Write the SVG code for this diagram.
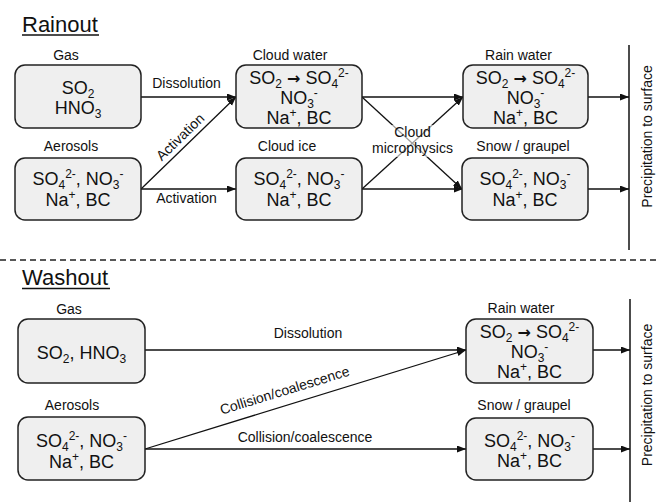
<svg xmlns="http://www.w3.org/2000/svg" width="656" height="502" viewBox="0 0 656 502">
<style>
text{font-family:"Liberation Sans",Arial,sans-serif;fill:#111}
.box{fill:#efefef;stroke:#222;stroke-width:1.5}
.c{font-size:18px;text-anchor:middle}
.lbl{font-size:14px;text-anchor:middle}
.ttl{font-size:22px}
.edge{fill:none;stroke:#111;stroke-width:1.3}
.arr{marker-end:url(#ah)}
.s{font-size:12px}
.ar{font-family:"DejaVu Sans",sans-serif;font-weight:bold;font-size:16px}
</style>
<defs>
<marker id="ah" markerUnits="userSpaceOnUse" markerWidth="10" markerHeight="8" refX="9" refY="3.5" orient="auto">
<path d="M0,0 L9,3.5 L0,7 Z" fill="#111"/>
</marker>
</defs>
<rect width="656" height="502" fill="#fff"/>

<!-- titles -->
<text class="ttl" x="22" y="32">Rainout</text>
<line x1="22" y1="35" x2="99" y2="35" stroke="#111" stroke-width="1.4"/>
<text class="ttl" x="22" y="285">Washout</text>
<line x1="22" y1="288.5" x2="110" y2="288.5" stroke="#111" stroke-width="1.4"/>

<line x1="0" y1="260" x2="656" y2="260" stroke="#222" stroke-width="1.3" stroke-dasharray="6 4"/>

<!-- connectors -->
<g id="connectors">
<path class="edge arr" d="M141,97 L236,97"/>
<path class="edge arr" d="M141,189 L236,97"/>
<path class="edge arr" d="M141,189 L236,189"/>
<path class="edge arr" d="M362,97 L463,97"/>
<path class="edge arr" d="M362,189 L463,189"/>
<path class="edge arr" d="M362,97 L462,189"/>
<path class="edge arr" d="M362,189 L463,97"/>
<path class="edge arr" d="M588,97 L629,97"/>
<path class="edge arr" d="M588,189 L629,189"/>
<line x1="629" y1="45" x2="629" y2="250" stroke="#111" stroke-width="1.5"/>

<path class="edge arr" d="M145,350 L466,350"/>
<path class="edge arr" d="M145,449 L466,350"/>
<path class="edge arr" d="M145,449 L466,449"/>
<path class="edge arr" d="M593,350 L630,350"/>
<path class="edge arr" d="M593,449 L630,449"/>
<line x1="630" y1="299" x2="630" y2="502" stroke="#111" stroke-width="1.5"/>

<text class="lbl" x="186.5" y="88">Dissolution</text>
<text class="lbl" x="186.5" y="203">Activation</text>
<text class="lbl" transform="translate(183.5,140.5) rotate(-44.1)">Activation</text>
<rect x="371" y="125" width="84" height="32" fill="#fff" fill-opacity="0.6"/>
<text class="lbl" x="412.5" y="137">Cloud</text>
<text class="lbl" x="412.5" y="153">microphysics</text>
<text class="lbl" x="308" y="338">Dissolution</text>
<text class="lbl" x="305" y="442">Collision/coalescence</text>
<text class="lbl" transform="translate(286,395) rotate(-17.1)">Collision/coalescence</text>
<text class="lbl" transform="translate(652,136.5) rotate(-90)">Precipitation to surface</text>
<text class="lbl" transform="translate(652,395) rotate(-90)">Precipitation to surface</text>
</g>

<!-- Rainout nodes -->
<g id="r-gas">
<text class="lbl" x="66" y="60">Gas</text>
<rect class="box" x="15" y="65" width="126" height="63" rx="10"/>
<text class="c" x="78" y="94">SO<tspan class="s" dy="4">2</tspan></text>
<text class="c" x="78" y="114">HNO<tspan class="s" dy="4">3</tspan></text>
</g>
<g id="r-aerosols">
<text class="lbl" x="71" y="151">Aerosols</text>
<rect class="box" x="15" y="158" width="126" height="62" rx="10"/>
<text class="c" x="78" y="185">SO<tspan class="s" dy="4">4</tspan><tspan class="s" dy="-11">2-</tspan><tspan dy="7">, NO</tspan><tspan class="s" dy="4">3</tspan><tspan class="s" dy="-11">-</tspan></text>
<text class="c" x="78" y="206">Na<tspan class="s" dy="-7">+</tspan><tspan dy="7">, BC</tspan></text>
</g>
<g id="r-cloudwater">
<text class="lbl" x="290" y="60">Cloud water</text>
<rect class="box" x="236" y="65" width="126" height="63" rx="10"/>
<text class="c" x="299" y="84">SO<tspan class="s" dy="4">2</tspan><tspan dy="-4"> </tspan><tspan class="ar">→</tspan><tspan> SO</tspan><tspan class="s" dy="4">4</tspan><tspan class="s" dy="-11">2-</tspan></text>
<text class="c" x="299" y="104">NO<tspan class="s" dy="4">3</tspan><tspan class="s" dy="-11">-</tspan></text>
<text class="c" x="299" y="124">Na<tspan class="s" dy="-7">+</tspan><tspan dy="7">, BC</tspan></text>
</g>
<g id="r-cloudice">
<text class="lbl" x="287" y="151">Cloud ice</text>
<rect class="box" x="236" y="158" width="126" height="62" rx="10"/>
<text class="c" x="299" y="185">SO<tspan class="s" dy="4">4</tspan><tspan class="s" dy="-11">2-</tspan><tspan dy="7">, NO</tspan><tspan class="s" dy="4">3</tspan><tspan class="s" dy="-11">-</tspan></text>
<text class="c" x="299" y="206">Na<tspan class="s" dy="-7">+</tspan><tspan dy="7">, BC</tspan></text>
</g>
<g id="r-rainwater">
<text class="lbl" x="518.5" y="60">Rain water</text>
<rect class="box" x="463" y="65" width="125" height="63" rx="10"/>
<text class="c" x="525.5" y="84">SO<tspan class="s" dy="4">2</tspan><tspan dy="-4"> </tspan><tspan class="ar">→</tspan><tspan> SO</tspan><tspan class="s" dy="4">4</tspan><tspan class="s" dy="-11">2-</tspan></text>
<text class="c" x="525.5" y="104">NO<tspan class="s" dy="4">3</tspan><tspan class="s" dy="-11">-</tspan></text>
<text class="c" x="525.5" y="124">Na<tspan class="s" dy="-7">+</tspan><tspan dy="7">, BC</tspan></text>
</g>
<g id="r-snow">
<text class="lbl" x="523" y="151">Snow / graupel</text>
<rect class="box" x="462" y="158" width="126" height="62" rx="10"/>
<text class="c" x="525" y="185">SO<tspan class="s" dy="4">4</tspan><tspan class="s" dy="-11">2-</tspan><tspan dy="7">, NO</tspan><tspan class="s" dy="4">3</tspan><tspan class="s" dy="-11">-</tspan></text>
<text class="c" x="525" y="206">Na<tspan class="s" dy="-7">+</tspan><tspan dy="7">, BC</tspan></text>
</g>

<!-- Washout nodes -->
<g id="w-gas">
<text class="lbl" x="69" y="314">Gas</text>
<rect class="box" x="18" y="319" width="127" height="64" rx="10"/>
<text class="c" x="81.5" y="359">SO<tspan class="s" dy="4">2</tspan><tspan dy="-4">, HNO</tspan><tspan class="s" dy="4">3</tspan></text>
</g>
<g id="w-aerosols">
<text class="lbl" x="72" y="410">Aerosols</text>
<rect class="box" x="18" y="417" width="127" height="63" rx="10"/>
<text class="c" x="81.5" y="447">SO<tspan class="s" dy="4">4</tspan><tspan class="s" dy="-11">2-</tspan><tspan dy="7">, NO</tspan><tspan class="s" dy="4">3</tspan><tspan class="s" dy="-11">-</tspan></text>
<text class="c" x="81.5" y="468">Na<tspan class="s" dy="-7">+</tspan><tspan dy="7">, BC</tspan></text>
</g>
<g id="w-rainwater">
<text class="lbl" x="521" y="313">Rain water</text>
<rect class="box" x="466" y="319" width="127" height="64" rx="10"/>
<text class="c" x="529.5" y="338">SO<tspan class="s" dy="4">2</tspan><tspan dy="-4"> </tspan><tspan class="ar">→</tspan><tspan> SO</tspan><tspan class="s" dy="4">4</tspan><tspan class="s" dy="-11">2-</tspan></text>
<text class="c" x="529.5" y="358">NO<tspan class="s" dy="4">3</tspan><tspan class="s" dy="-11">-</tspan></text>
<text class="c" x="529.5" y="378">Na<tspan class="s" dy="-7">+</tspan><tspan dy="7">, BC</tspan></text>
</g>
<g id="w-snow">
<text class="lbl" x="524" y="410">Snow / graupel</text>
<rect class="box" x="466" y="418" width="127" height="62" rx="10"/>
<text class="c" x="529.5" y="447">SO<tspan class="s" dy="4">4</tspan><tspan class="s" dy="-11">2-</tspan><tspan dy="7">, NO</tspan><tspan class="s" dy="4">3</tspan><tspan class="s" dy="-11">-</tspan></text>
<text class="c" x="529.5" y="467">Na<tspan class="s" dy="-7">+</tspan><tspan dy="7">, BC</tspan></text>
</g>
</svg>
